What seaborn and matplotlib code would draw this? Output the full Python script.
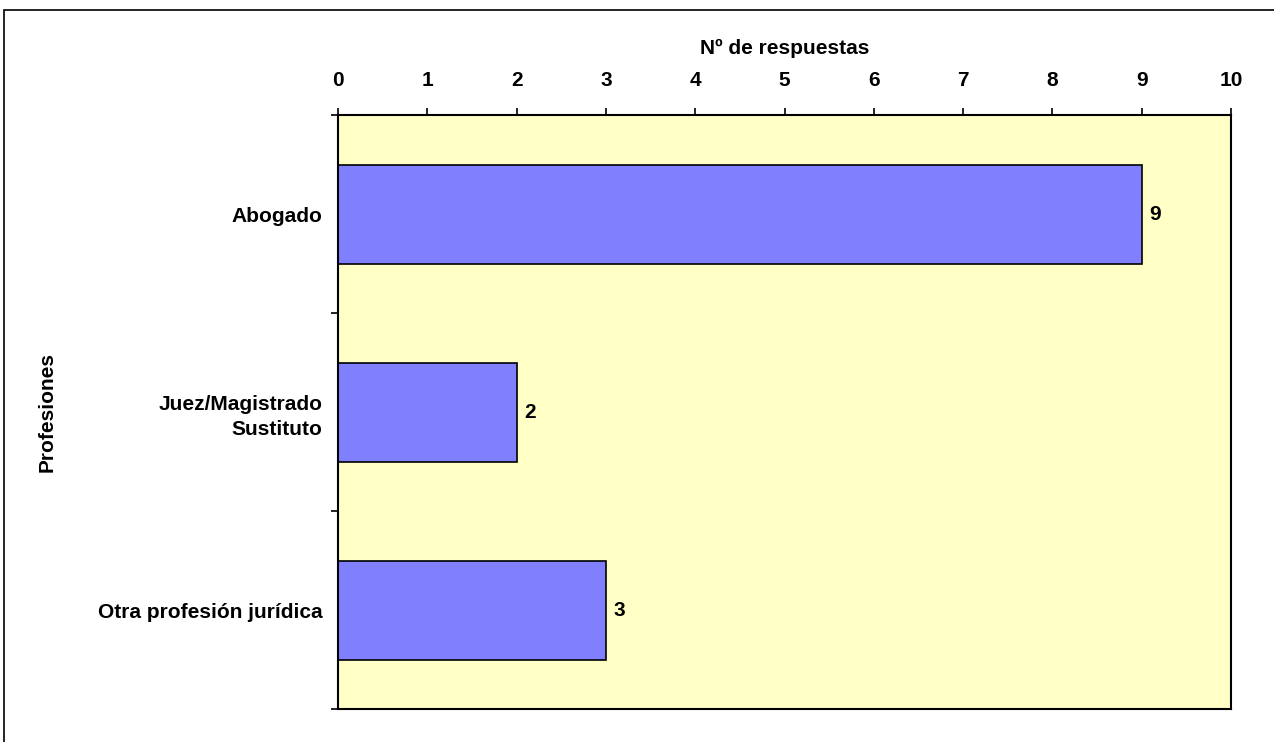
import matplotlib
matplotlib.use("Agg")
import matplotlib.pyplot as plt
import seaborn as sns
import pandas as pd
from matplotlib.patches import Rectangle

categories = ["Abogado", "Juez/Magistrado\nSustituto", "Otra profesión jurídica"]
values = [9, 2, 3]
x_ticks = list(range(0, 11))

sns.set_style("white")
plt.rcParams['font.family'] = ['Liberation Sans', 'DejaVu Sans']
plt.rcParams['text.color'] = 'black'
plt.rcParams['axes.labelcolor'] = 'black'
plt.rcParams['xtick.color'] = 'black'
plt.rcParams['ytick.color'] = 'black'

df = pd.DataFrame({"Profesiones": categories, "Respuestas": values})

fig = plt.figure(figsize=(12.74, 7.42), dpi=100)
ax = fig.add_axes([338/1274, 1 - 709/742, (1231-338)/1274, (709-115)/742])

sns.barplot(data=df, y="Profesiones", x="Respuestas", orient="h",
            color="#8080FF", saturation=1, width=0.5,
            edgecolor="black", linewidth=1.2, ax=ax)

ax.set_facecolor("#FFFFC6")
ax.set_xlim(0, 10)
ax.set_ylim(2.5, -0.5)
ax.xaxis.tick_top()
ax.xaxis.set_label_position("top")
ax.set_xticks(x_ticks)
ax.set_xticklabels([str(t) for t in x_ticks], fontsize=15, fontweight="bold")
ax.tick_params(axis="x", which="major", direction="out", length=5, width=1.2,
               pad=13, top=True, bottom=False, colors="black")
ax.set_xlabel("Nº de respuestas", fontsize=15, fontweight="bold", labelpad=12)

ax.set_yticks([0, 1, 2])
ax.set_yticklabels(categories, fontsize=15, fontweight="bold", linespacing=1.4)
ax.set_yticks([-0.5, 0.5, 1.5, 2.5], minor=True)
ax.tick_params(axis="y", which="major", length=0, pad=11)
ax.tick_params(axis="y", which="minor", direction="out", length=5, width=1.2, left=True)
ax.set_ylabel("Profesiones", fontsize=15, fontweight="bold", labelpad=30)

for s in ax.spines.values():
    s.set_visible(True)
    s.set_color("black")
    s.set_linewidth(1.5)

for i, v in enumerate(values):
    ax.text(v + 0.09, i, str(v), va="center", ha="left",
            fontsize=15, fontweight="bold", color="black")

fig.patches.append(Rectangle((4/1274, -0.1), 1.2, 1.1 - 10/742,
                             transform=fig.transFigure, fill=False,
                             edgecolor="black", linewidth=1.2))

fig.savefig("out.png", dpi=100, facecolor="white")
